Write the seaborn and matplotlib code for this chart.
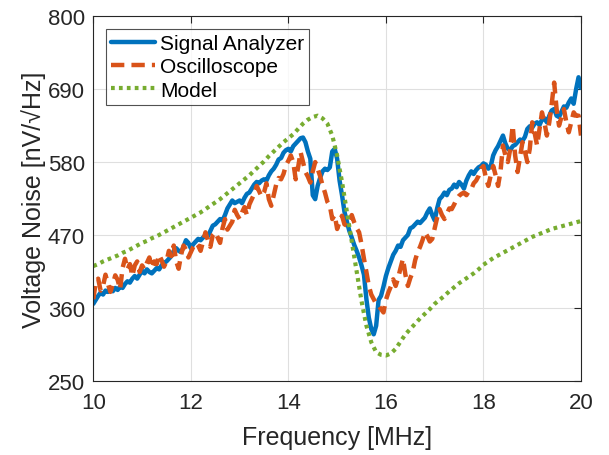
import numpy as np
import pandas as pd
import matplotlib
matplotlib.use('Agg')
import matplotlib.pyplot as plt
import seaborn as sns

# frequency grids (MHz)
freq_meas = np.round(np.arange(10.0, 20.0001, 0.05), 2)
freq_model = np.round(np.arange(10.0, 20.0001, 0.1), 1)

# Signal Analyzer, nV/sqrt(Hz), every 0.05 MHz
signal_analyzer = [
    366, 372, 378, 383, 380, 386, 384, 388, 385, 390,
    387, 392, 390, 396, 400, 398, 404, 408, 404, 410,
    416, 412, 418, 414, 412, 416, 420, 418, 424, 428,
    430, 434, 438, 446, 450, 446, 444, 452, 462, 458,
    450, 456, 460, 464, 462, 466, 470, 468, 476, 484,
    486, 490, 494, 492, 500, 510, 516, 522, 518, 520,
    522, 518, 526, 532, 534, 540, 546, 550, 548, 552,
    554, 552, 560, 566, 570, 576, 584, 586, 594, 598,
    600, 596, 604, 608, 612, 616, 617, 610, 596, 585,
    530, 524, 544, 556, 566, 570, 568, 572, 596, 600,
    585, 552, 530, 505, 490, 476, 466, 455, 446, 436,
    424, 410, 373, 345, 328, 320, 333, 372, 378, 392,
    408, 420, 430, 440, 446, 454, 452, 462, 466, 470,
    480, 482, 486, 490, 488, 492, 496, 504, 510, 500,
    492, 510, 524, 528, 534, 530, 538, 540, 546, 542,
    550, 546, 540, 552, 560, 566, 562, 568, 572, 574,
    578, 576, 570, 574, 590, 598, 604, 612, 620, 608,
    600, 598, 604, 606, 610, 614, 612, 618, 630, 634,
    632, 638, 640, 636, 644, 646, 640, 650, 658, 660,
    650, 648, 656, 664, 662, 670, 676, 668, 690, 708,
    692,
]

# Oscilloscope, same grid
oscilloscope = [
    373, 398, 404, 386, 393, 410, 396, 384, 395, 409,
    402, 388, 420, 434, 418, 426, 408, 424, 430, 414,
    424, 418, 428, 436, 420, 430, 426, 440, 432, 422,
    430, 446, 438, 454, 430, 419, 440, 454, 448, 436,
    444, 452, 458, 454, 446, 460, 474, 462, 452, 470,
    474, 466, 458, 480, 494, 478, 484, 490, 508, 500,
    494, 504, 512, 500, 516, 524, 532, 544, 536, 528,
    534, 548, 524, 514, 530, 546, 556, 554, 562, 575,
    582, 590, 580, 554, 572, 595, 580, 565, 558, 549,
    566, 580, 570, 559, 545, 534, 520, 514, 494, 500,
    479, 490, 499, 486, 484, 490, 500, 489, 480, 474,
    456, 434, 414, 393, 380, 373, 366, 363, 358, 353,
    372, 383, 392, 403, 393, 405, 420, 434, 410, 393,
    405, 414, 432, 444, 452, 462, 474, 468, 460, 464,
    480, 496, 509, 500, 494, 502, 510, 509, 516, 524,
    529, 532, 534, 530, 536, 539, 548, 552, 559, 570,
    574, 556, 544, 560, 574, 560, 544, 566, 605, 590,
    580, 600, 635, 590, 565, 588, 610, 596, 580, 600,
    640, 624, 605, 630, 655, 640, 620, 640, 668, 700,
    660, 635, 648, 660, 640, 625, 640, 655, 650, 650,
    620,
]

# Model, every 0.1 MHz
model = [
    423, 426, 430, 433, 436, 439, 443, 446, 450, 454,
    458, 461, 465, 468, 472, 476, 480, 484, 488, 492,
    496, 500, 504, 509, 514, 519, 524, 530, 536, 542,
    548, 554, 560, 567, 574, 581, 589, 596, 603, 610,
    616, 622, 630, 638, 644, 648, 650, 646, 638, 620,
    590, 550, 505, 460, 415, 370, 333, 308, 293, 289,
    288, 291, 298, 309, 320, 328, 336, 344, 351, 358,
    366, 372, 378, 385, 391, 397, 402, 407, 412, 418,
    425, 430, 435, 439, 443, 447, 451, 455, 459, 463,
    467, 470, 473, 476, 479, 481, 483, 485, 487, 489,
    491,
]

yticks = [250, 360, 470, 580, 690, 800]
xticks = [10, 12, 14, 16, 18, 20]

sns.set_style('white')
plt.rcParams['font.family'] = ['Liberation Sans', 'DejaVu Sans']
txt = '#262626'

fig = plt.figure(figsize=(6.09, 4.56), dpi=100)
ax = fig.add_axes([0.1532, 0.163, 0.8008, 0.799])

sns.lineplot(x=freq_meas, y=signal_analyzer, ax=ax, color='#0072BD', lw=3.2,
             label='Signal Analyzer')
sns.lineplot(x=freq_meas, y=oscilloscope, ax=ax, color='#D95319', lw=3.2,
             linestyle=(0, (3, 1.6)), label='Oscilloscope')
sns.lineplot(x=freq_model, y=model, ax=ax, color='#77AC30', lw=3,
             linestyle=(0, (0.9, 1.0)), label='Model')

ax.set_xlim(10, 20)
ax.set_ylim(250, 800)
ax.set_xticks(xticks)
ax.set_yticks(yticks)
ax.grid(True, color='#dfdfdf', lw=0.8)
ax.tick_params(direction='in', length=5, width=0.8, colors=txt, labelsize=16,
               top=True, right=True)
ax.tick_params(axis='x', pad=8)
ax.tick_params(axis='y', pad=6)
for s in ax.spines.values():
    s.set_color(txt)
    s.set_linewidth(0.8)

ax.set_xlabel('Frequency [MHz]', fontsize=18, color=txt, labelpad=9)
ax.set_ylabel('Voltage Noise [nV/\u221aHz]', fontsize=18, color=txt, labelpad=1)

leg = ax.legend(loc='upper left', bbox_to_anchor=(0.026, 0.965), fontsize=15,
                frameon=True, fancybox=False, handlelength=2.1, handletextpad=0.25,
                borderpad=0.25, labelspacing=0.2, borderaxespad=0)
leg.get_frame().set_edgecolor(txt)
leg.get_frame().set_linewidth(0.8)
for t in leg.get_texts():
    t.set_color('black')

fig.savefig('out.png', dpi=100)
